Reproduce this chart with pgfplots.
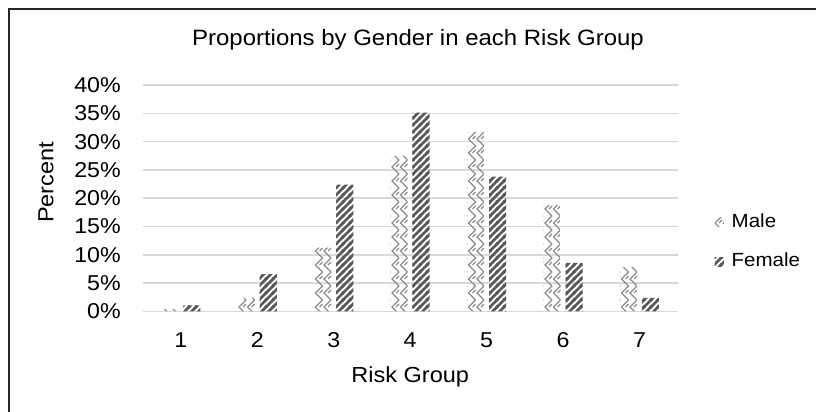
\documentclass[border=0pt]{standalone}
\usepackage{fontspec}
\setmainfont{Liberation Sans}[FakeStretch=1.08]
\usepackage{pgfplots}
\pgfplotsset{compat=1.18}
\usetikzlibrary{patterns}

\definecolor{gridgray}{HTML}{D9D9D9}
\definecolor{malegray}{HTML}{8C8C8C}
\definecolor{femalegray}{HTML}{595959}
\definecolor{framegray}{HTML}{262626}

% zig-zag chevrons for the male bars
\pgfdeclarepatternformonly{malezig}{\pgfqpoint{0pt}{-1pt}}{\pgfqpoint{8.5pt}{15pt}}{\pgfqpoint{8.5pt}{14pt}}{%
  \pgfsetlinewidth{1.1pt}%
  \pgfpathmoveto{\pgfqpoint{8pt}{0pt}}%
  \pgfpathlineto{\pgfqpoint{1pt}{7pt}}%
  \pgfpathlineto{\pgfqpoint{8pt}{14pt}}%
  \pgfpathmoveto{\pgfqpoint{5pt}{7pt}}%
  \pgfpathlineto{\pgfqpoint{8pt}{10pt}}%
  \pgfusepath{stroke}}

% wide upward diagonal stripes for the female bars
\pgfdeclarepatternformonly{femalestripe}{\pgfqpoint{-1pt}{-1pt}}{\pgfqpoint{8pt}{8pt}}{\pgfqpoint{7pt}{7pt}}{%
  \pgfsetlinewidth{2.5pt}%
  \pgfpathmoveto{\pgfqpoint{-1pt}{-1pt}}\pgfpathlineto{\pgfqpoint{8pt}{8pt}}%
  \pgfpathmoveto{\pgfqpoint{-1pt}{6pt}}\pgfpathlineto{\pgfqpoint{1pt}{8pt}}%
  \pgfpathmoveto{\pgfqpoint{6pt}{-1pt}}\pgfpathlineto{\pgfqpoint{8pt}{1pt}}%
  \pgfusepath{stroke}}

\begin{document}
\begin{tikzpicture}[x=1pt,y=1pt]
\useasboundingbox (0,0) rectangle (816,412);
\draw[framegray, line width=2pt] (8.5,-3) -- (8.5,402.5) -- (820,402.5);
\begin{axis}[
  at={(142.7pt,100.5pt)}, anchor=south west,
  scale only axis, width=535pt, height=226.5pt,
  xmin=0.5, xmax=7.5, ymin=0, ymax=40,
  enlargelimits=false,
  ybar=5pt, bar width=17pt,
  axis x line*=bottom, axis y line*=left,
  axis line style={draw=none},
  major tick length=0pt,
  xtick={1,2,3,4,5,6,7},
  xticklabels={1,2,3,4,5,6,7},
  ytick={0,5,10,15,20,25,30,35,40},
  yticklabels={0\%,5\%,10\%,15\%,20\%,25\%,30\%,35\%,40\%},
  /pgf/number format/assume math mode=true,
  tick label style={font=\fontsize{21.5}{24}\selectfont},
  xticklabel style={inner sep=0pt, anchor=north, yshift=-20.8pt},
  yticklabel style={inner sep=0pt, anchor=east, xshift=-21.7pt},
  ymajorgrids,
  grid style={gridgray, line width=1.5pt},
  title={Proportions by Gender in each Risk Group},
  title style={font=\fontsize{22.2}{26}\selectfont, inner sep=0pt,
    at={(axis description cs:0.5146,1.147)}, anchor=base},
  xlabel={Risk Group},
  xlabel style={font=\fontsize{21.8}{25}\selectfont, inner sep=0pt,
    at={(axis description cs:0.5,-0.3135)}, anchor=base},
  ylabel={Percent},
  ylabel style={font=\fontsize{21.8}{25}\selectfont, inner sep=0pt,
    at={(axis description cs:-0.167,0.570)}, anchor=base, rotate=0},
  legend image code/.code={\fill[#1] (0pt,-5.5pt) rectangle (9pt,3.5pt);},
  legend style={draw=none, fill=none, inner sep=0pt, outer sep=0pt,
    at={(axis description cs:1.0697,0.4336)}, anchor=north west,
    font=\fontsize{19}{22}\selectfont,
    row sep=24.4pt, column sep=7.7pt,
    nodes={inner sep=0pt}},
  legend cell align=left,
]
\addplot[draw=none, pattern=malezig, pattern color=malegray]
  coordinates {(1,0.4) (2,2.4) (3,11.3) (4,27.5) (5,31.7) (6,18.8) (7,7.9)};
\addplot[draw=none, pattern=femalestripe, pattern color=femalegray]
  coordinates {(1,1.1) (2,6.6) (3,22.4) (4,35.1) (5,23.8) (6,8.6) (7,2.4)};
\legend{Male,Female}
\end{axis}
\end{tikzpicture}
\end{document}
